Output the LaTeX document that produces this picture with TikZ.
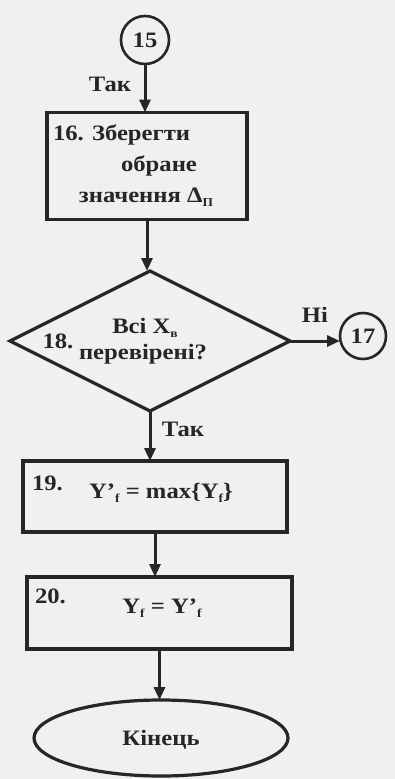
\documentclass[tikz,border=0pt]{standalone}
\usepackage{fontspec}
\setmainfont[FakeStretch=1.12]{Liberation Serif}
\usetikzlibrary{shapes.geometric,arrows.meta}
\newcommand\lowsub[1]{\raisebox{-0.35ex}{\fontsize{12}{12}\selectfont #1}}
\begin{document}
\begin{tikzpicture}[x=1pt,y=-1pt,
  every node/.style={inner sep=0pt,outer sep=0pt},
  txt/.style={font=\fontsize{22}{24}\selectfont\bfseries,text=black!85},
  boxst/.style={draw=black!85,line width=3.2pt,rectangle},
  conn/.style={draw=black!85,line width=2.6pt,circle,minimum size=48pt},
  arr/.style={draw=black!85,line width=3pt,-{Triangle[length=13pt,width=11pt]}}]
\fill[black!6] (0,0) rectangle (395,779);
\useasboundingbox (0,0) rectangle (395,779);
% connector 15
\node[conn] (c15) at (145,40) {};
\node[txt] (t15) at (145,40) {15};
\node[txt] (tak1) at (110,84) {Так};
% box 16
\node[boxst,minimum width=200pt,minimum height=107pt] (b16) at (147,166) {};
\node[txt,anchor=base west] (t16a) at (53,140) {16. Зберегти};
\node[txt] (t16b) at (159,166) {обране};
\node[txt] (t16c) at (146,197) {значення Δ\lowsub{П}};
% diamond 18
\node[draw=black!85,line width=3.2pt,diamond,aspect=2,minimum width=280pt,minimum height=140pt] (d18) at (150,341) {};
\node[txt] (t18n) at (58,341) {18.};
\node[txt] (t18a) at (145,328) {Всі X\lowsub{в}};
\node[txt] (t18b) at (143,354) {перевірені?};
\node[conn,minimum size=46pt] (c17) at (363,336) {};
\node[txt] (t17) at (363,336) {17};
\node[txt] (ni) at (315,315) {Ні};
\node[txt] (tak2) at (183,429) {Так};
% box 19
\node[boxst,minimum width=264pt,minimum height=71pt] (b19) at (155,496.5) {};
\node[txt,anchor=base west] (t19n) at (32,490) {19.};
\node[txt] (t19) at (161,493) {Y’\lowsub{f} = max\{Y\lowsub{f}\}};
% box 20
\node[boxst,minimum width=265pt,minimum height=72pt] (b20) at (159.5,613) {};
\node[txt,anchor=base west] (t20n) at (35,603) {20.};
\node[txt] (t20) at (162,608) {Y\lowsub{f} = Y’\lowsub{f}};
% end
\node[draw=black!85,line width=3.2pt,ellipse,minimum width=254pt,minimum height=76pt] (end) at (161,738) {};
\node[txt] (tend) at (161,740) {Кінець};
% connectors
\draw[arr] (c15.south) -- (c15.south |- b16.north);
\draw[arr] (b16.south) -- (b16.south |- d18.north);
\draw[arr] (d18.east) -- (c17.west |- d18.east);
\draw[arr] (d18.south) -- (d18.south |- b19.north);
\draw[arr] (b19.south) -- (b19.south |- b20.north);
\draw[arr] (b20.south) -- (b20.south |- end.north);
\end{tikzpicture}
\end{document}
